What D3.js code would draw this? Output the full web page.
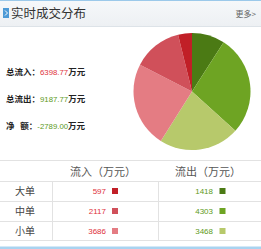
<!DOCTYPE html>
<html>
<head>
<meta charset="utf-8">
<script src="https://cdn.jsdelivr.net/npm/d3@7"></script>
<style>
	body{ margin:0; background:#fff; }
	#chart{ width:261px; height:249px; overflow:hidden; }
	.cjk{ font-family:"Noto Sans CJK SC", sans-serif; }
	.num{ font-family:"Liberation Sans", Arial, sans-serif; }
	.grid{ stroke:#e2e2e2; stroke-width:1; shape-rendering:crispEdges; }
</style>
</head>
<body>
<div id="chart"></div>
<script>
var title = "实时成交分布"
var moreLabel = "更多>"

var summaryLabels = ["总流入：", "总流出：", "净   额："]
var summaryValues = ["6398.77", "9187.77", "-2789.00"]
var summaryUnit = "万元"

var orderTypes = ["大单", "中单", "小单"]
var inflow = [597, 2117, 3686]
var outflow = [1418, 4303, 3468]
var columnLabels = ["流入（万元）", "流出（万元）"]

var inColors = ["#c11f27", "#d0505a", "#e47c83"]
var outColors = ["#4b7a14", "#6ea423", "#b7c96b"]

var WIDTH = 261
var HEIGHT = 249

var svg = d3.select("#chart").append("svg")
	.attr("width", WIDTH)
	.attr("height", HEIGHT)

// header bar
var defs = svg.append("defs")
var grad = defs.append("linearGradient")
	.attr("id", "headBg")
	.attr("x1", 0).attr("y1", 0).attr("x2", 0).attr("y2", 1)
grad.append("stop").attr("offset", "0%").attr("stop-color", "#f6f8fa")
grad.append("stop").attr("offset", "100%").attr("stop-color", "#edf0f3")

svg.append("rect")
	.attr("x", 0).attr("y", 0)
	.attr("width", WIDTH).attr("height", 27)
	.attr("fill", "url(#headBg)")

svg.append("line")
	.attr("class", "grid")
	.attr("x1", 0).attr("x2", WIDTH)
	.attr("y1", 26.5).attr("y2", 26.5)
	.style("stroke", "#dde3e8")

svg.append("line")
	.attr("x1", 0).attr("x2", WIDTH)
	.attr("y1", 0.5).attr("y2", 0.5)
	.style("stroke", "#9cc9ea")
	.style("shape-rendering", "crispEdges")

svg.append("rect")
	.attr("x", 3).attr("y", 8)
	.attr("width", 6).attr("height", 10)
	.attr("fill", "#4d9ad6")

svg.append("path")
	.attr("d", "M5,10.5 L7.5,13 L5,15.5")
	.attr("fill", "none")
	.attr("stroke", "#fff")
	.attr("stroke-width", 1)

svg.append("text")
	.attr("class", "cjk")
	.attr("x", 11)
	.attr("y", 18)
	.style("font-size", "12.5px")
	.style("fill", "#333")
	.text(title)

svg.append("text")
	.attr("class", "cjk")
	.attr("x", 256)
	.attr("y", 16.5)
	.attr("text-anchor", "end")
	.style("font-size", "8px")
	.style("fill", "#666")
	.text(moreLabel)

// summary lines
var summaryY = d3.scalePoint()
	.domain(d3.range(summaryLabels.length))
	.range([75, 129])

var summary = svg.selectAll(".summary")
	.data(summaryLabels)
	.enter()
	.append("text")
	.attr("class", "summary")
	.attr("x", 6)
	.attr("y", function(d, i){ return summaryY(i) })
	.style("font-size", "8.5px")

summary.append("tspan")
	.attr("class", "cjk")
	.style("font-weight", "bold")
	.style("fill", "#222")
	.style("white-space", "pre")
	.text(function(d){ return d })

summary.append("tspan")
	.attr("class", "num")
	.style("font-size", "7.8px")
	.style("fill", function(d, i){ return i == 0 ? "#e0323a" : "#5d9a22" })
	.text(function(d, i){ return summaryValues[i] })

summary.append("tspan")
	.attr("class", "cjk")
	.style("font-weight", "bold")
	.style("fill", "#222")
	.text(summaryUnit)

// pie: outflow clockwise from top, then inflow coming back round
var pieData = outflow.map(function(v, i){ return {value: v, color: outColors[i]} })
	.concat(inflow.slice().reverse().map(function(v, i){
		return {value: v, color: inColors[inColors.length - 1 - i]}
	}))

var pie = d3.pie()
	.sort(null)
	.value(function(d){ return d.value })

var arc = d3.arc()
	.innerRadius(0)
	.outerRadius(58.5)

svg.append("g")
	.attr("transform", "translate(192,91.5)")
	.selectAll("path")
	.data(pie(pieData))
	.enter()
	.append("path")
	.attr("d", arc)
	.attr("fill", function(d){ return d.data.color })

// table
var rowY = d3.scaleBand()
	.domain(orderTypes)
	.range([181, 241])

svg.append("rect")
	.attr("x", 0).attr("y", 157)
	.attr("width", WIDTH).attr("height", 92)
	.attr("fill", "#fff")

var hLines = [160.5].concat(orderTypes.map(function(d){ return rowY(d) + 0.5 })).concat([240.5])
svg.selectAll(".hline")
	.data(hLines)
	.enter()
	.append("line")
	.attr("class", "grid hline")
	.attr("x1", 0).attr("x2", WIDTH)
	.attr("y1", function(d){ return d })
	.attr("y2", function(d){ return d })

svg.selectAll(".vline")
	.data([52.5, 158.5])
	.enter()
	.append("line")
	.attr("class", "grid vline")
	.attr("x1", function(d){ return d })
	.attr("x2", function(d){ return d })
	.attr("y1", 181).attr("y2", 241)

svg.selectAll(".colHead")
	.data(columnLabels)
	.enter()
	.append("text")
	.attr("class", "cjk colHead")
	.attr("x", function(d, i){ return i == 0 ? 103 : 208 })
	.attr("y", 176)
	.attr("text-anchor", "middle")
	.style("font-size", "11px")
	.style("fill", "#555")
	.text(function(d){ return d })

var row = svg.selectAll(".row")
	.data(orderTypes)
	.enter()
	.append("g")
	.attr("class", "row")
	.attr("transform", function(d){ return "translate(0," + (rowY(d) + rowY.bandwidth()/2) + ")" })

row.append("text")
	.attr("class", "cjk")
	.attr("x", 25)
	.attr("y", 4)
	.attr("text-anchor", "middle")
	.style("font-size", "10px")
	.style("fill", "#444")
	.text(function(d){ return d })

row.append("text")
	.attr("class", "num")
	.attr("x", 106)
	.attr("y", 3)
	.attr("text-anchor", "end")
	.style("font-size", "8px")
	.style("fill", "#e0323a")
	.text(function(d, i){ return inflow[i] })

row.append("rect")
	.attr("x", 112)
	.attr("y", -3)
	.attr("width", 6).attr("height", 6)
	.attr("fill", function(d, i){ return inColors[i] })

row.append("text")
	.attr("class", "num")
	.attr("x", 213)
	.attr("y", 3)
	.attr("text-anchor", "end")
	.style("font-size", "8px")
	.style("fill", "#5d9a22")
	.text(function(d, i){ return outflow[i] })

row.append("rect")
	.attr("x", 219.5)
	.attr("y", -3)
	.attr("width", 6).attr("height", 6)
	.attr("fill", function(d, i){ return outColors[i] })

svg.append("rect")
	.attr("x", 0).attr("y", 246.5)
	.attr("width", WIDTH).attr("height", 2.5)
	.attr("fill", "#a9d3f0")
</script>
</body>
</html>
